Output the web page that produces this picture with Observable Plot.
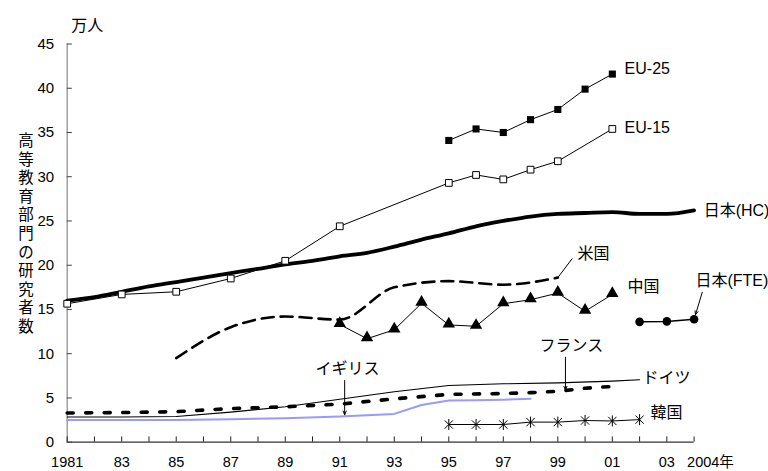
<!DOCTYPE html>
<html><head><meta charset="utf-8">
<script src="https://cdn.jsdelivr.net/npm/d3@7"></script>
<script src="https://cdn.jsdelivr.net/npm/@observablehq/plot@0.6"></script>
<style>
body{margin:0;background:#fff}
#chart{width:768px;height:471px}
svg{overflow:visible}
</style>
</head><body><div id="chart"></div>
<script>
// ---- data ----
const japanHCYears = [1981,1982,1983,1984,1985,1986,1987,1988,1989,1990,1991,1992,1993,1994,1995,1996,1997,1998,1999,2000,2001,2002,2003,2004];
const japanHC      = [16.0,16.4,17.0,17.6,18.1,18.6,19.1,19.6,20.1,20.5,21.0,21.4,22.1,22.9,23.6,24.4,25.0,25.5,25.8,25.9,26.0,25.8,25.8,26.2];

const eu25Years = [1995,1996,1997,1998,1999,2000,2001];
const eu25      = [34.1,35.4,35.0,36.45,37.6,39.9,41.6];

const eu15Years = [1981,1983,1985,1987,1989,1991,1995,1996,1997,1998,1999,2001];
const eu15      = [15.65,16.7,17.0,18.5,20.5,24.4,29.3,30.2,29.7,30.8,31.75,35.4];

const usYears = [1985,1987,1989,1991,1993,1995,1997,1999];
const us      = [9.5,13.0,14.2,13.85,17.5,18.2,17.8,18.6];

const chinaYears = [1991,1992,1993,1994,1995,1996,1997,1998,1999,2000,2001];
const china      = [13.3,11.7,12.7,15.7,13.25,13.1,15.65,16.1,16.85,14.8,16.7];

const japanFTEYears = [2002,2003,2004];
const japanFTE      = [13.6,13.65,13.9];

const germanyYears = [1981,1983,1985,1987,1989,1991,1993,1995,1997,1999,2001,2002];
const germany      = [2.85,2.85,2.9,3.4,4.0,4.85,5.7,6.4,6.6,6.7,6.9,7.05];

const franceYears = [1981,1983,1985,1987,1989,1991,1993,1995,1997,1998,1999,2000,2001];
const france      = [3.3,3.35,3.45,3.8,4.0,4.3,4.9,5.4,5.5,5.6,5.75,6.1,6.3];

const ukYears = [1981,1983,1985,1987,1989,1991,1993,1994,1995,1996,1997,1998];
const uk      = [2.5,2.5,2.5,2.6,2.7,2.9,3.2,4.2,4.7,4.75,4.8,4.9];

const koreaYears = [1995,1996,1997,1998,1999,2000,2001,2002];
const korea      = [2.0,2.0,2.0,2.27,2.27,2.45,2.4,2.55];

const yTicks = [0,5,10,15,20,25,30,35,40,45];
const xTickYears = [1981,1982,1983,1984,1985,1986,1987,1988,1989,1990,1991,1992,1993,1994,1995,1996,1997,1998,1999,2000,2001,2002,2003,2004];
const xLabelYears = [1981,1983,1985,1987,1989,1991,1993,1995,1997,1999,2001,2003];
const xLabels     = ["1981","83","85","87","89","91","93","95","97","99","01","03"];
const xLastLabelYear = [2004];
const xLastLabel = ["2004年"];

const unitLabel = "万人";
const yTitle = "高等教育部門の研究者数";

// series labels (start-anchored)
const labelNames = ["EU-25","EU-15","日本(HC)","中国","日本(FTE)","ドイツ","韓国"];
const labelXs    = [2001.45,2001.45,2004.35,2001.56,2004.05,2002.11,2002.4];
const labelYs    = [42.2,35.5,26.1,17.5,18.27,7.31,3.36];
// centered labels with leaders
const cLabelNames = ["米国","イギリス","フランス"];
const cLabelXs    = [2000.31,1991.28,1999.5];
const cLabelYs    = [21.32,8.33,10.93];
// arrows: x1,y1,x2,y2
const arrowX1 = [1991.18,1999.28,2004.30];
const arrowY1 = [6.97,9.6,16.95];
const arrowX2 = [1991.18,1999.28,2004.05];
const arrowY2 = [3.1,5.9,14.4];
// US leader line
const leaderX1 = [1999], leaderY1 = [18.6], leaderX2 = [1999.53], leaderY2 = [20.76];

// ---- build tables ----
const zip = (xs, ys) => xs.map((x, i) => ({x, y: ys[i]}));
const hc = zip(japanHCYears, japanHC);
const e25 = zip(eu25Years, eu25);
const e15 = zip(eu15Years, eu15);
const usT = zip(usYears, us);
const cn = zip(chinaYears, china);
const fte = zip(japanFTEYears, japanFTE);
const de = zip(germanyYears, germany);
const fr = zip(franceYears, france);
const ukT = zip(ukYears, uk);
const kr = zip(koreaYears, korea);
const labels = labelNames.map((t, i) => ({t, x: labelXs[i], y: labelYs[i]}));
const cLabels = cLabelNames.map((t, i) => ({t, x: cLabelXs[i], y: cLabelYs[i]}));
const arrows = arrowX1.map((x1, i) => ({x1, y1: arrowY1[i], x2: arrowX2[i], y2: arrowY2[i]}));
const leaders = leaderX1.map((x1, i) => ({x1, y1: leaderY1[i], x2: leaderX2[i], y2: leaderY2[i]}));
const xLab = xLabelYears.map((x, i) => ({x, t: xLabels[i]}));
const xLast = xLastLabelYear.map((x, i) => ({x, t: xLastLabel[i]}));

// custom asterisk: X plus vertical bar
const starSymbol = {
  draw(ctx, size) {
    const r = Math.sqrt(size / Math.PI);
    const d = r * 0.75;
    ctx.moveTo(0, -r); ctx.lineTo(0, r);
    ctx.moveTo(-d, -d); ctx.lineTo(d, d);
    ctx.moveTo(-d, d); ctx.lineTo(d, -d);
  }
};

const FONT = "'Liberation Sans','Noto Sans CJK JP',sans-serif";

const chart = Plot.plot({
  width: 768, height: 471,
  marginLeft: 66.7, marginRight: 74.4, marginTop: 43.5, marginBottom: 29.3,
  x: {type: "linear", domain: [1981, 2004], axis: null},
  y: {type: "linear", domain: [0, 45], axis: null},
  style: {fontFamily: FONT, fontSize: "15px", background: "white", color: "black", overflow: "visible"},
  marks: [
    // axes
    Plot.ruleX([1981], {stroke: "#888", strokeWidth: 1.2}),
    Plot.ruleY([0], {stroke: "#333", strokeWidth: 1.2}),
    Plot.ruleY(yTicks, {y: d => d, x1: 1981, x2: 1981.19, stroke: "#444"}),
    Plot.ruleX(xTickYears, {x: d => d, y1: 0, y2: 0.6, stroke: "#222"}),
    Plot.text(yTicks, {x: 1981, y: d => d, text: d => String(d), textAnchor: "end", dx: -13, fontSize: 15}),
    Plot.text(xLab, {x: "x", y: 0, text: "t", dy: 20, fontSize: 14.5}),
    Plot.text(xLast, {x: "x", y: 0, text: "t", dy: 20, dx: -7, textAnchor: "start", fontSize: 14.5}),
    Plot.text([unitLabel], {frameAnchor: "top-left", text: d => d, dx: 4, dy: -24, fontSize: 16}),
    Plot.text([yTitle], {frameAnchor: "left", text: d => d.split("").join("\n"), dx: -49, dy: -10, lineHeight: 1.2, fontSize: 15.5}),

    // lines
    Plot.line(ukT, {x: "x", y: "y", stroke: "#9999ff", strokeWidth: 2}),
    Plot.line(de, {x: "x", y: "y", stroke: "black", strokeWidth: 1.1}),
    Plot.line(fr, {x: "x", y: "y", stroke: "black", strokeWidth: 3.6, strokeDasharray: "6,12.5"}),
    Plot.line(kr, {x: "x", y: "y", stroke: "black", strokeWidth: 1}),
    Plot.line(usT, {x: "x", y: "y", stroke: "black", strokeWidth: 2.6, strokeDasharray: "12,7", curve: "monotone-x"}),
    Plot.line(hc, {x: "x", y: "y", stroke: "black", strokeWidth: 3.8, curve: "monotone-x"}),
    Plot.line(e15, {x: "x", y: "y", stroke: "black", strokeWidth: 1}),
    Plot.line(e25, {x: "x", y: "y", stroke: "black", strokeWidth: 1}),
    Plot.line(cn, {x: "x", y: "y", stroke: "black", strokeWidth: 1}),
    Plot.line(fte, {x: "x", y: "y", stroke: "black", strokeWidth: 1.5}),

    // markers
    Plot.dot(e25, {x: "x", y: "y", symbol: "square", r: 4, fill: "black", stroke: "none"}),
    Plot.dot(e15, {x: "x", y: "y", symbol: "square", r: 3.8, fill: "white", stroke: "black", strokeWidth: 1}),
    Plot.dot(cn, {x: "x", y: "y", symbol: "triangle", r: 4.6, fill: "black", stroke: "none", dy: -1}),
    Plot.dot(fte, {x: "x", y: "y", symbol: "circle", r: 4.3, fill: "black", stroke: "none"}),
    Plot.dot(kr, {x: "x", y: "y", symbol: starSymbol, r: 5.5, fill: "none", stroke: "black", strokeWidth: 1}),

    // annotations
    Plot.link(leaders, {x1: "x1", y1: "y1", x2: "x2", y2: "y2", stroke: "black", strokeWidth: 1}),
    Plot.arrow(arrows, {x1: "x1", y1: "y1", x2: "x2", y2: "y2", stroke: "black", strokeWidth: 1, headLength: 6, headAngle: 45}),
    Plot.text(labels, {x: "x", y: "y", text: "t", textAnchor: "start", fontSize: 16}),
    Plot.text(cLabels, {x: "x", y: "y", text: "t", textAnchor: "middle", fontSize: 16})
  ]
});
document.getElementById("chart").append(chart);
</script>
</body></html>
